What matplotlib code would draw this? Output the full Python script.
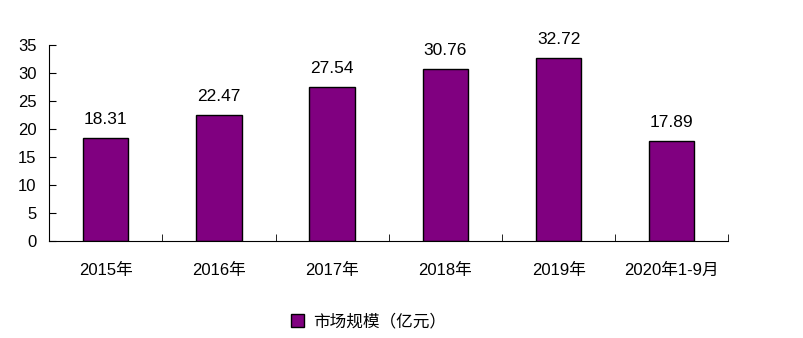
import matplotlib
matplotlib.use("Agg")
import matplotlib.pyplot as plt

plt.rcParams['font.family'] = ['Liberation Sans', 'Noto Sans CJK SC', 'DejaVu Sans']

cats = ['2015年', '2016年', '2017年', '2018年', '2019年', '2020年1-9月']
vals = [18.31, 22.47, 27.54, 30.76, 32.72, 17.89]

fig = plt.figure(figsize=(8.04, 3.38), dpi=100)
ax = fig.add_axes([0.061, 0.287, 0.845, 0.58])

x = list(range(len(cats)))
ax.bar(x, vals, width=0.4, color='#800080', edgecolor='#000000', linewidth=1.0,
       label='市场规模（亿元）')
for a, b in zip(x, vals):
    ax.text(a, b + 2.0, '%.2f' % b, ha='center', va='bottom', fontsize=12.5, color='#000000')

ax.set_xlim(-0.5, len(cats) - 0.5)
ax.set_ylim(0, 35)
ax.set_yticks(range(0, 36, 5))
ax.tick_params(axis='y', direction='in', length=5, labelsize=12, pad=9)
ax.set_xticks(x)
ax.set_xticklabels(cats)
ax.set_xticks([i - 0.5 for i in range(len(cats) + 1)], minor=True)
ax.tick_params(axis='x', which='major', length=0, labelsize=12, pad=16)
ax.tick_params(axis='x', which='minor', direction='in', length=5)
ax.spines['top'].set_visible(False)
ax.spines['right'].set_visible(False)

ax.legend(loc='center', bbox_to_anchor=(0.47, -0.41), frameon=False, fontsize=12,
          handlelength=0.8, handleheight=0.8, handletextpad=0.5)

plt.savefig('out.png', dpi=100)
